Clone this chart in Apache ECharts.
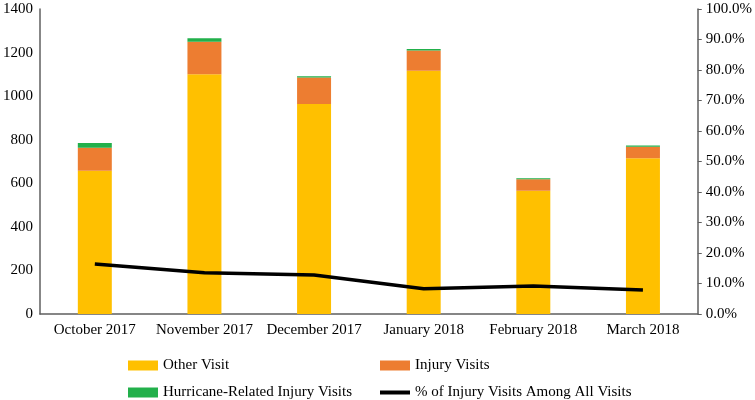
<!DOCTYPE html>
<html>
<head>
<meta charset="utf-8">
<script src="https://cdn.jsdelivr.net/npm/echarts@6/dist/echarts.min.js"></script>
<style>html,body{margin:0;padding:0;background:#fff;}#c{width:755px;height:400px;}</style>
</head>
<body>
<div id="c"></div>
<script>
const categories = ['October 2017','November 2017','December 2017','January 2018','February 2018','March 2018'];
const otherVisit = [658, 1100, 964, 1117, 566, 715];
const injuryVisits = [105, 150, 122, 92, 52, 53];
const hurricaneVisits = [22, 16, 5, 7, 5, 6];
const injuryPct = [0.164, 0.135, 0.128, 0.083, 0.092, 0.079];
const leftTicks = {min: 0, max: 1400, interval: 200};
const rightTicks = {min: 0, max: 1, interval: 0.1};

const font = 'Liberation Serif';
const axisColor = '#5f5f5f';
const chart = echarts.init(document.getElementById('c'));
const legendBase = {
  itemWidth: 30, itemHeight: 10, itemGap: 6,
  textStyle: {fontFamily: font, fontSize: 15, color: '#000'},
  icon: 'rect'
};
chart.setOption({
  animation: false,
  grid: {left: 38, right: 57, top: 9, bottom: 86},
  legend: [
    Object.assign({}, legendBase, {left: 123, top: 353, data: ['Other Visit']}),
    Object.assign({}, legendBase, {left: 375, top: 353, data: ['Injury Visits']}),
    Object.assign({}, legendBase, {left: 123, top: 380, data: ['Hurricane-Related Injury Visits']}),
    Object.assign({}, legendBase, {left: 375, top: 380, data: [{name: '% of Injury Visits Among All Visits', icon: 'path://M0,0 L30,0 L30,4 L0,4 Z'}], itemHeight: 4})
  ],
  xAxis: {
    type: 'category', data: categories,
    axisLine: {lineStyle: {color: axisColor, width: 1.5}},
    axisTick: {show: false},
    axisLabel: {fontFamily: font, fontSize: 15, color: '#000', margin: 9, interval: 0}
  },
  yAxis: [
    {
      type: 'value', min: leftTicks.min, max: leftTicks.max, interval: leftTicks.interval,
      axisLine: {show: true, lineStyle: {color: axisColor, width: 1.5}},
      axisTick: {show: false},
      splitLine: {show: false},
      axisLabel: {fontFamily: font, fontSize: 15, color: '#000', margin: 7,
        formatter: v => String(v)}
    },
    {
      type: 'value', min: rightTicks.min, max: rightTicks.max, interval: rightTicks.interval,
      position: 'right',
      axisLine: {show: true, lineStyle: {color: axisColor, width: 1.5}},
      axisTick: {show: true, length: 4, lineStyle: {color: axisColor}},
      splitLine: {show: false},
      axisLabel: {fontFamily: font, fontSize: 15, color: '#000', margin: 8,
        formatter: v => (v * 100).toFixed(1) + '%'}
    }
  ],
  series: [
    {name: 'Other Visit', type: 'bar', stack: 'v', data: otherVisit, barWidth: '31%', itemStyle: {color: '#FFC000'}},
    {name: 'Injury Visits', type: 'bar', stack: 'v', data: injuryVisits, itemStyle: {color: '#ED7D31'}},
    {name: 'Hurricane-Related Injury Visits', type: 'bar', stack: 'v', data: hurricaneVisits, itemStyle: {color: '#22B04B'}},
    {name: '% of Injury Visits Among All Visits', type: 'line', yAxisIndex: 1, data: injuryPct,
      showSymbol: false, symbol: 'none', lineStyle: {color: '#000', width: 3.5}, itemStyle: {color: '#000'}}
  ]
});
</script>
</body>
</html>
